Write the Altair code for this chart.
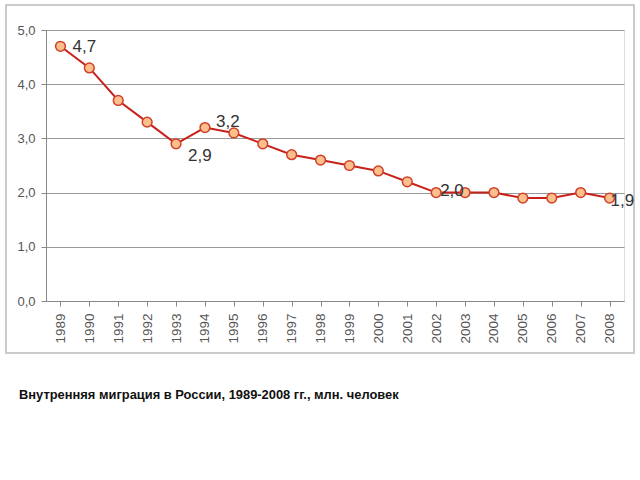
import altair as alt
import pandas as pd

years = [str(y) for y in range(1989, 2009)]
values = [4.7, 4.3, 3.7, 3.3, 2.9, 3.2, 3.1, 2.9, 2.7, 2.6,
          2.5, 2.4, 2.2, 2.0, 2.0, 2.0, 1.9, 1.9, 2.0, 1.9]
label_years = ["1989", "1993", "1994", "2002", "2008"]
y_ticks = [0, 1, 2, 3, 4, 5]
caption = "Внутренняя миграция в России, 1989-2008 гг., млн. человек"

df = pd.DataFrame({"year": years, "value": values})
df["label"] = df["value"].map(lambda v: f"{v:.1f}".replace(".", ","))
one = pd.DataFrame({"caption": [caption]})

W, H = 578, 271
FONT = "Liberation Sans"

x_enc = alt.X("year:N", sort=years, title=None,
              scale=alt.Scale(paddingInner=0, paddingOuter=0),
              axis=alt.Axis(labelAngle=-90, bandPosition=0, labelFont=FONT,
                            labelFontSize=13.5, labelColor="#555", labelPadding=7,
                            tickColor="#888", tickSize=5, domainColor="#888",
                            labelBaseline="middle", labelAlign="right",
                            labelBound=False, labelFlush=False))
y_enc = alt.Y("value:Q", title=None,
              scale=alt.Scale(domain=[0, 5], nice=False, zero=True),
              axis=alt.Axis(values=y_ticks, labelExpr="replace(format(datum.value,'.1f'),'.',',')",
                            labelFont=FONT, labelFontSize=13, labelColor="#555",
                            gridColor="#999", tickColor="#888", tickSize=5,
                            domainColor="#888", labelPadding=6))

base = alt.Chart(df).encode(x=x_enc, y=y_enc)

line = base.mark_line(color="#C8201A", strokeWidth=2)
points = base.mark_point(filled=True, fill="#FDBF8C", stroke="#D0402A",
                         strokeWidth=1.5, size=95, opacity=1)

offsets = {"1989": (12, 1), "1993": (12, 12), "1994": (11, -6),
           "2002": (4, -2), "2008": (1, 3)}
label_layers = []
for yr in label_years:
    dx, dy = offsets[yr]
    label_layers.append(
        base.transform_filter(alt.datum.year == yr)
        .mark_text(font=FONT, fontSize=17, color="#333", dx=dx, dy=dy, align="left")
        .encode(text="label:N")
    )

frame = alt.Chart(one).mark_rect(fill=None, stroke="#bbb", strokeWidth=1.5).encode(
    x=alt.value(-40), x2=alt.value(588), y=alt.value(-25), y2=alt.value(323))

cap = alt.Chart(one).mark_text(font="Liberation Sans", fontSize=12.9, fontWeight="bold",
                               color="#111", align="left", baseline="middle").encode(
    x=alt.value(-27), y=alt.value(365), text="caption:N")

chart = alt.layer(frame, line, points, *label_layers, cap).properties(
    width=W, height=H,
    autosize=alt.AutoSizeParams(type="none"),
    padding={"left": 46, "top": 30, "right": 16, "bottom": 179},
).configure_view(stroke="#aaa", strokeWidth=1).configure(background="white")

chart.save("out.html", embed_options={"renderer": "svg", "actions": False})
